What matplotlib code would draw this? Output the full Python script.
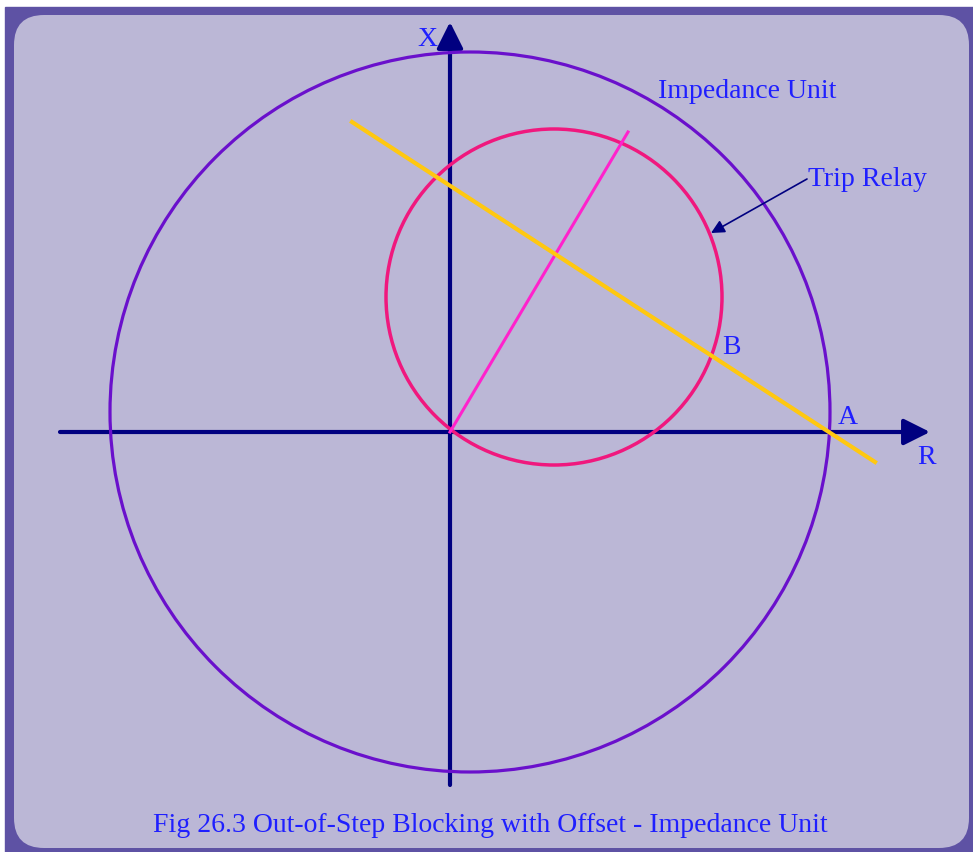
import matplotlib
matplotlib.use("Agg")
import matplotlib.pyplot as plt
from matplotlib.patches import Circle, Rectangle, FancyBboxPatch

# impedance plane, units ~ pixels, origin at the R-X axis crossing
outer_center = (20, 20)
outer_radius = 360
trip_center = (104, 135)
trip_radius = 168
diameter_line = ([0, 178], [0, 300])
swing_line = ([-98, 425], [310, -30])
r_axis = (-390, 480)
x_axis = (-353, 410)
pointer = ((357, 253), (261, 199))

labels = {
    "X": (-23, 393),
    "R": (477, -26),
    "A": (398, 15),
    "B": (281, 84),
}
caption = "Fig 26.3 Out-of-Step Blocking with Offset - Impedance Unit"

navy = "#000080"
text_blue = "#1f1fff"
font = "Liberation Serif"
fs = 20

fig = plt.figure(figsize=(9.73, 8.52), dpi=100)
ax = fig.add_axes([0, 0, 1, 1])
ax.set_xlim(-450, 523)
ax.set_ylim(-420, 432)
ax.set_aspect("equal")
ax.axis("off")

# frame and rounded panel
ax.add_patch(Rectangle((-445, -420), 968, 845, color="#5e52a4", zorder=0))
ax.add_patch(FancyBboxPatch((-406, -386), 895, 773,
                            boxstyle="round,pad=30,rounding_size=30",
                            facecolor="#bbb7d6", edgecolor="none", zorder=1))

# axes with arrow heads
ax.annotate("", xy=(r_axis[1], 0), xytext=(r_axis[0], 0),
            arrowprops=dict(arrowstyle="-|>", color=navy, lw=3,
                            mutation_scale=40, shrinkA=0, shrinkB=0), zorder=3)
ax.annotate("", xy=(0, x_axis[1]), xytext=(0, x_axis[0]),
            arrowprops=dict(arrowstyle="-|>", color=navy, lw=3,
                            mutation_scale=40, shrinkA=0, shrinkB=0), zorder=3)

ax.add_patch(Circle(outer_center, outer_radius, fill=False,
                    edgecolor="#6a10cc", lw=2.3, zorder=4))
ax.add_patch(Circle(trip_center, trip_radius, fill=False,
                    edgecolor="#f0187e", lw=2.5, zorder=4))
ax.plot(diameter_line[0], diameter_line[1], color="#ff22cc", lw=2.2, zorder=4)
ax.plot(swing_line[0], swing_line[1], color="#ffc810", lw=3, zorder=5)

for name, (x, y) in labels.items():
    ax.text(x, y, name, color=text_blue, fontsize=fs, family=font,
            ha="center", va="center", zorder=6)

ax.text(208, 341, "Impedance Unit", color=text_blue, fontsize=fs,
        family=font, ha="left", va="center", zorder=6)
ax.text(358, 253, "Trip Relay", color=text_blue, fontsize=fs,
        family=font, ha="left", va="center", zorder=6)
ax.annotate("", xy=pointer[1], xytext=pointer[0],
            arrowprops=dict(arrowstyle="-|>", color=navy, lw=1.2,
                            mutation_scale=20, shrinkA=0, shrinkB=0), zorder=6)

ax.text(40, -394, caption, color=text_blue, fontsize=fs, family=font,
        ha="center", va="center", zorder=6)

fig.savefig("out.png", dpi=100)
